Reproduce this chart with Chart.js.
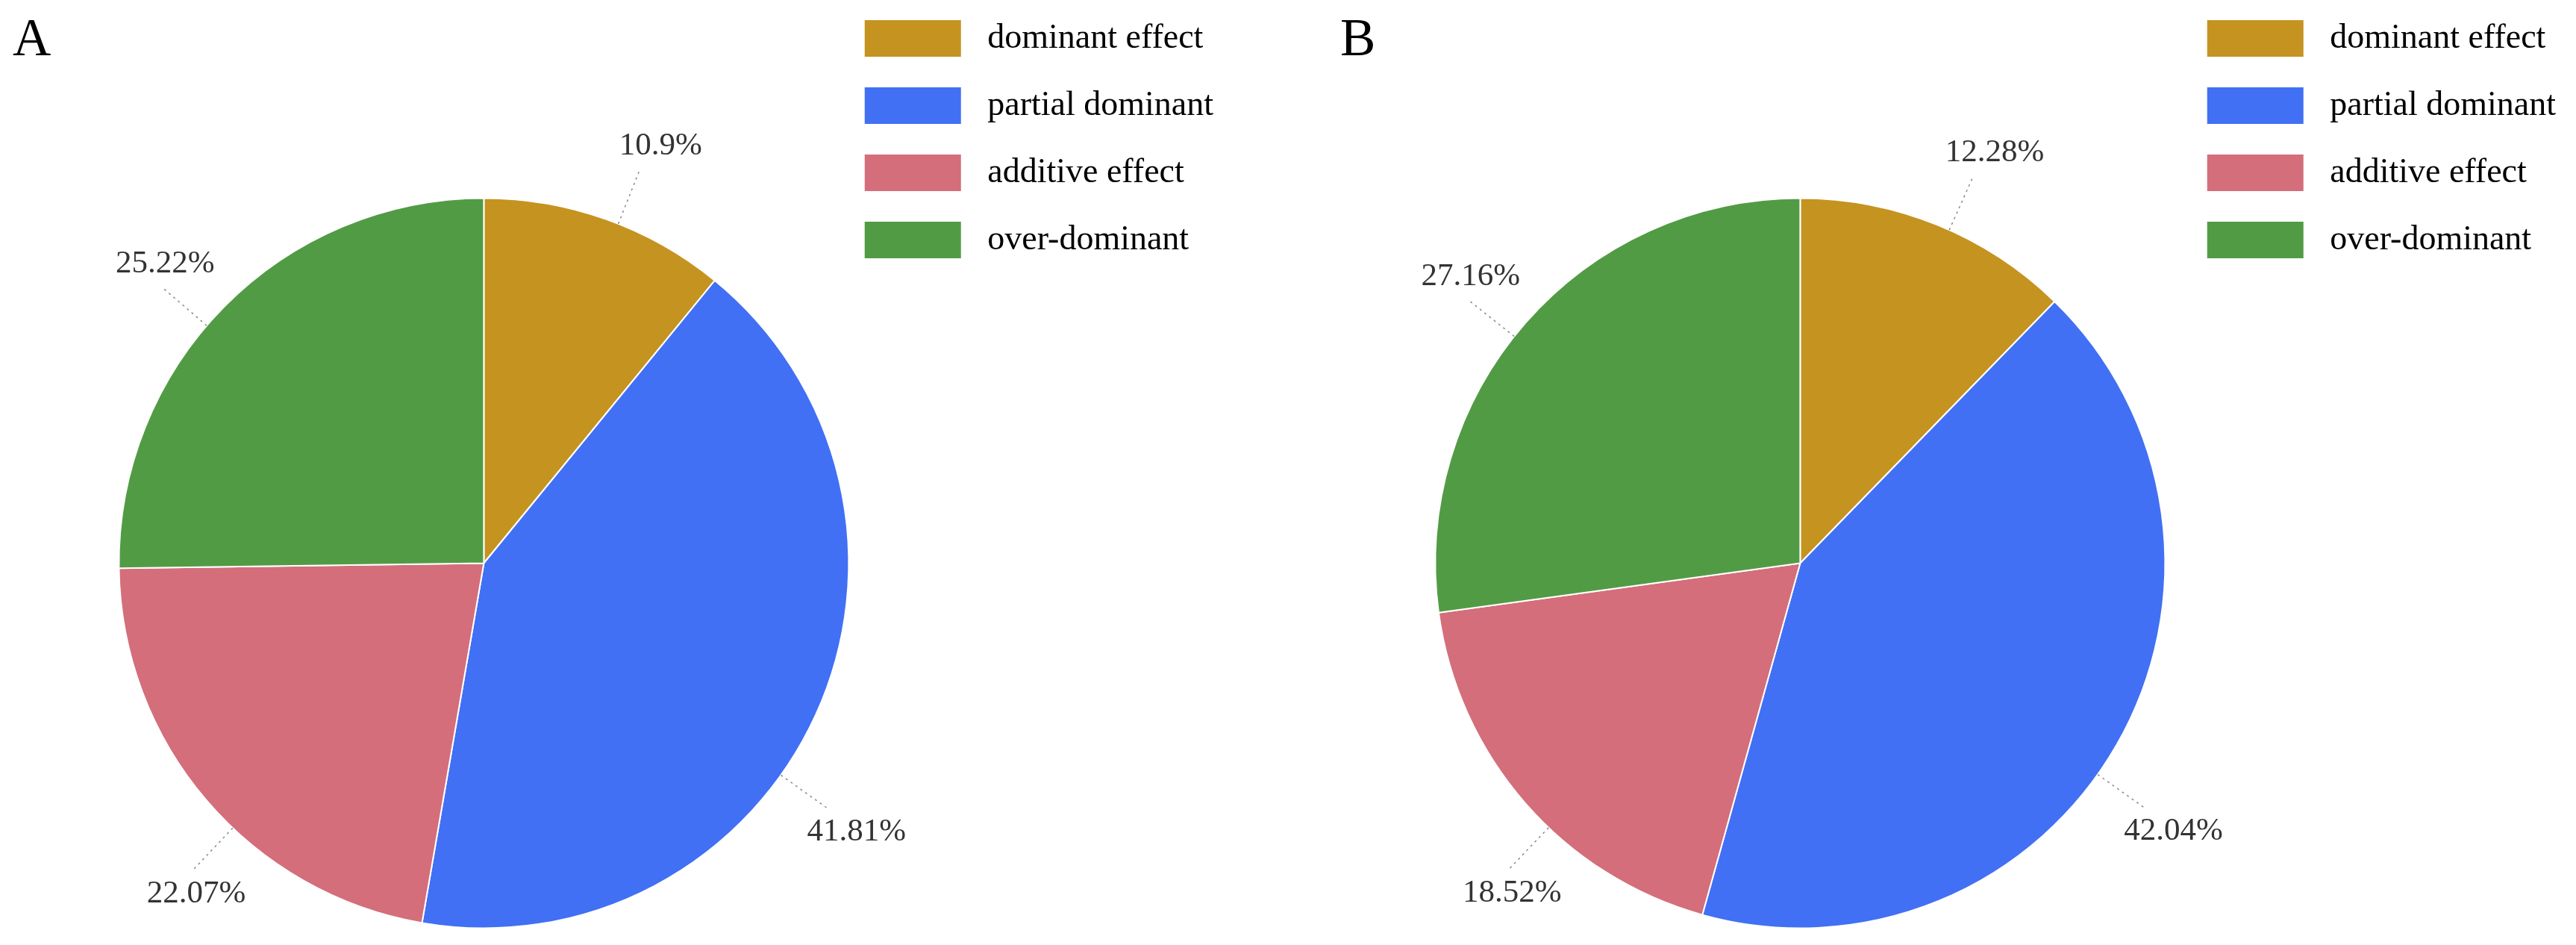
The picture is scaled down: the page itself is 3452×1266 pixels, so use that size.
<!DOCTYPE html>
<html>
<head>
<meta charset="utf-8">
<script src="https://cdn.jsdelivr.net/npm/chart.js@4.4.0/dist/chart.umd.min.js"></script>
<style>
  html, body { margin: 0; padding: 0; background: #fff; }
  body { width: 3452px; height: 1266px; overflow: hidden; position: relative; }
  canvas { position: absolute; }
  .tag { position: absolute; font-family: 'Liberation Serif', 'Times New Roman', serif; font-size: 71px; line-height: 71px; color: #000; }
</style>
</head>
<body>
<div class="tag" style="left:17px; top:15px;">A</div>
<div class="tag" style="left:1796px; top:15px;">B</div>
<canvas id="chart-a" width="1636" height="1535" style="left:0px; top:-13px;"></canvas>
<canvas id="chart-b" width="1709" height="1535" style="left:1726px; top:-13px;"></canvas>
<script>
const categories = ['dominant effect', 'partial dominant', 'additive effect', 'over-dominant'];
const valuesA = [10.9, 41.81, 22.07, 25.22];
const valuesB = [12.28, 42.04, 18.52, 27.16];
const sliceColors = ['#c59320', '#4170f4', '#d46e7b', '#529b45'];

// draws the "xx%" labels outside the slices with a dotted leader line
const calloutPlugin = {
  id: 'callouts',
  afterDatasetsDraw(chart, args, opts) {
    const ctx = chart.ctx;
    const meta = chart.getDatasetMeta(0);
    const data = chart.data.datasets[0].data;
    ctx.save();
    ctx.font = opts.font;
    ctx.fillStyle = opts.color;
    ctx.textAlign = 'center';
    ctx.textBaseline = 'middle';
    meta.data.forEach((arc, i) => {
      const { x, y, startAngle, endAngle, outerRadius } =
        arc.getProps(['x', 'y', 'startAngle', 'endAngle', 'outerRadius'], true);
      const a = (startAngle + endAngle) / 2 + ((opts.nudge[i] || 0) * Math.PI) / 180;
      const cos = Math.cos(a);
      const sin = Math.sin(a);
      const r1 = outerRadius + opts.lineLength;
      const x1 = x + cos * r1;
      const y1 = y + sin * r1;

      ctx.strokeStyle = opts.lineColor;
      ctx.lineWidth = 1.5;
      ctx.setLineDash([3, 5]);
      ctx.beginPath();
      ctx.moveTo(x + cos * outerRadius, y + sin * outerRadius);
      ctx.lineTo(x1, y1);
      ctx.stroke();

      const tx = x1 + 20 + cos * 20;
      const ty = y1 + (sin < 0 ? -30 : 30);
      ctx.fillText(`${data[i]}%`, tx, ty);
    });
    ctx.restore();
  },
};

function spacedLabels(chart) {
  const items = Chart.overrides.pie.plugins.legend.labels.generateLabels(chart);
  items.forEach((it) => { it.text = ' ' + it.text; });
  return items;
}

function createPie(id, values, padLeft, nudge) {
  const ctx = document.getElementById(id).getContext('2d');
  return new Chart(ctx, {
    type: 'pie',
    data: {
      labels: categories,
      datasets: [
        {
          data: values,
          backgroundColor: sliceColors,
          borderColor: '#ffffff',
          borderWidth: 2,
          radius: 489,
        },
      ],
    },
    options: {
      responsive: false,
      animation: false,
      devicePixelRatio: 1,
      layout: { padding: { left: padLeft, right: 0, top: 0, bottom: 0 } },
      plugins: {
        legend: {
          position: 'right',
          align: 'start',
          labels: {
            boxWidth: 131,
            boxHeight: 51,
            padding: 39,
            color: '#000',
            font: { family: "'Liberation Serif', 'Times New Roman', serif", size: 46 },
            generateLabels: spacedLabels,
          },
        },
        tooltip: { enabled: false },
        callouts: {
          font: "43px 'Liberation Serif', 'Times New Roman', serif",
          color: '#333',
          lineColor: '#8a8a8a',
          lineLength: 80,
          nudge,
        },
      },
    },
    plugins: [calloutPlugin],
  });
}

createPie('chart-a', valuesA, 178, [2, 11, -6, -4]);
createPie('chart-b', valuesB, 181, [2, 5.5, -5.3, -2.7]);
</script>
</body>
</html>
